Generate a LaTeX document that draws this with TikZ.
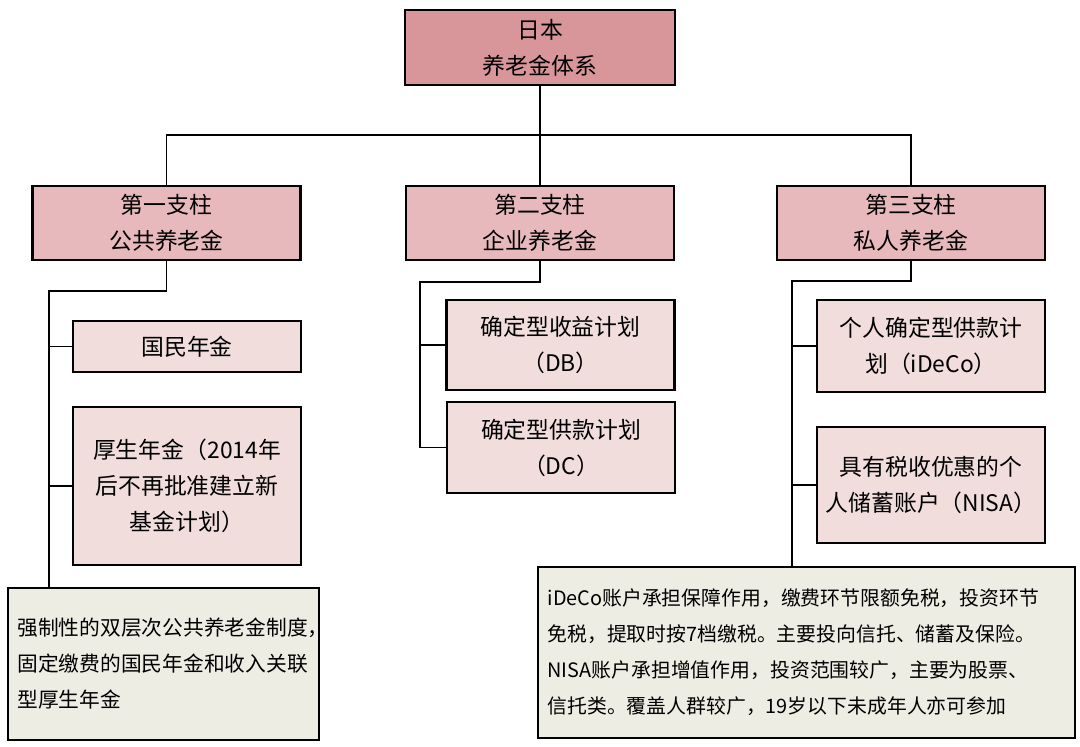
\documentclass[tikz,border=0pt]{standalone}
\usepackage{fontspec}
\setmainfont{Noto Sans CJK SC}
\usepackage{tikz}

\definecolor{rootpink}{HTML}{D9969A}
\definecolor{pillarpink}{HTML}{E8B9BC}
\definecolor{itempink}{HTML}{F2DDDD}
\definecolor{notegray}{HTML}{EEEDE4}

\begin{document}
\begin{tikzpicture}[x=0.02cm, y=-0.02cm,
  box/.style={draw, line width=1.6pt, rectangle, align=center, inner sep=0pt,
    font=\fontsize{13}{20.5}\selectfont},
  rootbox/.style={box, fill=rootpink, minimum width=5.4cm, minimum height=1.5cm},
  pillarbox/.style={box, fill=pillarpink, minimum width=5.36cm, minimum height=1.48cm},
  itembox/.style={box, fill=itempink, minimum width=4.56cm},
  notebox/.style={draw, line width=1.6pt, rectangle, fill=notegray, align=left, inner sep=0pt,
    font=\fontsize{11.3}{20.5}\selectfont},
  link/.style={line width=0.8pt}]
\useasboundingbox (0,0) rectangle (1080,747);

\node (root) [rootbox] at (540,47.5) {日本\\养老金体系};

\node (pub) [pillarbox] at (166.5,223) {第一支柱\\公共养老金};
\node (corp) [pillarbox] at (540,223) {第二支柱\\企业养老金};
\node (priv) [pillarbox] at (911,223) {第三支柱\\私人养老金};

% first pillar
\node (kokumin) [itembox, minimum height=1.02cm] at (187,346.5) {国民年金};
\node (kosei) [itembox, minimum height=3.16cm] at (187,486) {厚生年金（2014年\\后不再批准建立新\\基金计划）};
\node (pubnote) [notebox, font=\fontsize{11.8}{20.5}\selectfont, minimum width=6.22cm, minimum height=3.04cm, text width=5.84cm] at (163.5,664)
  {强制性的双层次公共养老金制度，\\固定缴费的国民年金和收入关联\\型厚生年金};

% second pillar
\node (db) [itembox, minimum height=1.8cm] at (560.5,345) {确定型收益计划\\（DB）};
\node (dc) [itembox, minimum height=1.82cm] at (561,447.5) {确定型供款计划\\（DC）};

% third pillar
\node (ideco) [itembox, minimum height=1.84cm] at (931,346) {个人确定型供款计\\划（iDeCo）};
\node (nisa) [itembox, minimum height=2.32cm] at (931,485) {具有税收优惠的个\\人储蓄账户（NISA）};
\node (privnote) [notebox, minimum width=10.74cm, minimum height=3.42cm, text width=10.36cm] at (806.5,652.5)
  {iDeCo账户承担保障作用，缴费环节限额免税，投资环节\\免税，提取时按7档缴税。主要投向信托、储蓄及保险。\\NISA账户承担增值作用，投资范围较广，主要为股票、\\信托类。覆盖人群较广，19岁以下未成年人亦可参加};

% top level links
\coordinate (bus) at (540,135);
\draw[link] (root.south) -- (corp.north);
\draw[link] (pub.north) |- (bus) -| (priv.north);

% first pillar links
\coordinate (ptrunk) at (49,291);
\draw[link] (pub.south) |- (ptrunk) -- (ptrunk |- pubnote.north);
\draw[link] (ptrunk |- kokumin.west) -- (kokumin.west);
\draw[link] (ptrunk |- kosei.west) -- (kosei.west);

% second pillar links
\coordinate (ctrunk) at (420,282);
\draw[link] (corp.south) |- (ctrunk) -- (ctrunk |- dc.west) -- (dc.west);
\draw[link] (ctrunk |- db.west) -- (db.west);

% third pillar links
\coordinate (rtrunk) at (792,281);
\draw[link] (priv.south) |- (rtrunk) -- (rtrunk |- privnote.north);
\draw[link] (rtrunk |- ideco.west) -- (ideco.west);
\draw[link] (rtrunk |- nisa.west) -- (nisa.west);
\end{tikzpicture}
\end{document}
